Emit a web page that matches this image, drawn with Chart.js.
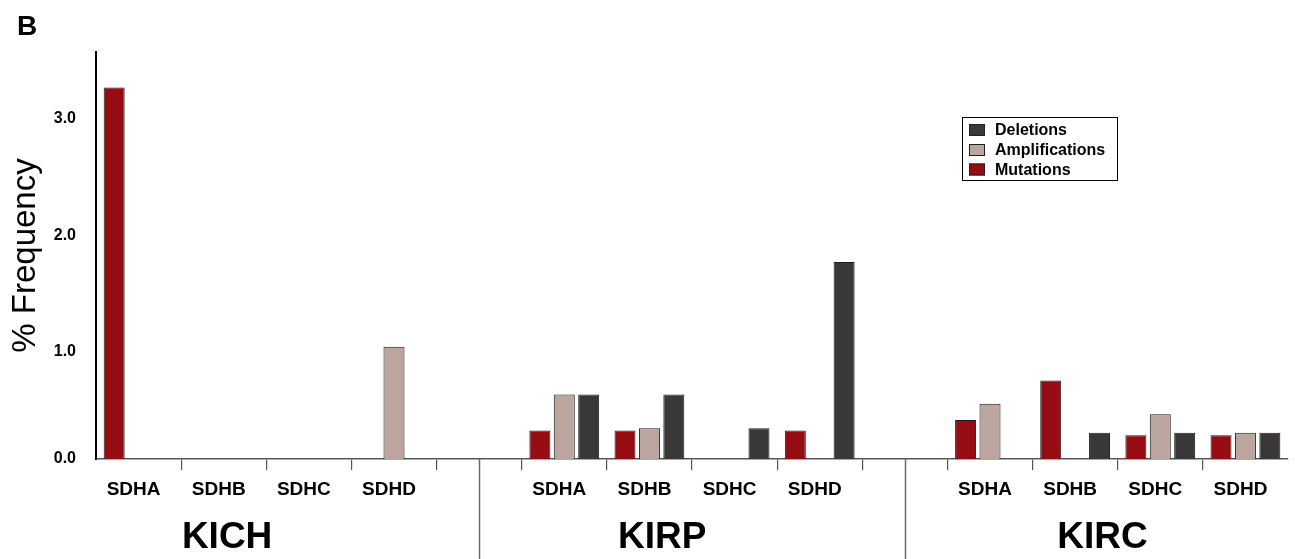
<!DOCTYPE html>
<html>
<head>
<meta charset="utf-8">
<script src="https://cdn.jsdelivr.net/npm/chart.js@4.4.1/dist/chart.umd.min.js"></script>
<style>
  html, body { margin: 0; padding: 0; background: #fff; }
  #wrap { width: 1295px; height: 559px; position: relative; }
</style>
</head>
<body>
<div id="wrap"><canvas id="c"></canvas></div>
<script>
// Gene slots per cancer type; the blank slots separate the three cohorts
const categories = ['SDHA', 'SDHB', 'SDHC', 'SDHD', '',
                    'SDHA', 'SDHB', 'SDHC', 'SDHD', '',
                    'SDHA', 'SDHB', 'SDHC', 'SDHD'];
const groups = ['KICH', 'KIRP', 'KIRC'];

// % frequency of alterations per gene
const mutations      = [3.27, 0, 0, 0,    null, 0.32, 0.32, 0,    0.32, null, 0.41, 0.75, 0.28, 0.28];
const amplifications = [0,    0, 0, 1.04, null, 0.63, 0.34, 0,    0,    null, 0.55, 0,    0.46, 0.30];
const deletions      = [0,    0, 0, 0,    null, 0.63, 0.63, 0.34, 1.77, null, 0,    0.30, 0.30, 0.30];

const seriesNames = ['Mutations', 'Amplifications', 'Deletions'];
const seriesColors = ['#960c13', '#bda59f', '#393836'];

const yTickValues = [1, 2, 3];
const yTickLabels = ['0.0', '1.0', '2.0', '3.0'];

const FONT = 'Arial, "Liberation Sans", Helvetica, sans-serif';

// Extra drawing: cohort separators, cohort names, panel letter, legend box
const decorPlugin = {
  id: 'decor',
  afterDraw(chart, args, opts) {
    const ctx = chart.ctx;
    const xs = chart.scales.x;
    const area = chart.chartArea;
    ctx.save();

    // vertical separators between cohorts, drawn through the blank slots
    ctx.strokeStyle = '#6a6a6a';
    ctx.lineWidth = 1.5;
    opts.separatorSlots.forEach(s => {
      const px = Math.round(xs.getPixelForValue(s)) + 0.5;
      ctx.beginPath();
      ctx.moveTo(px, area.bottom);
      ctx.lineTo(px, chart.height);
      ctx.stroke();
    });

    // cohort names
    ctx.fillStyle = '#000';
    ctx.font = `bold 37px ${FONT}`;
    ctx.textAlign = 'center';
    ctx.textBaseline = 'alphabetic';
    groups.forEach((g, i) => {
      ctx.fillText(g, xs.getPixelForValue(opts.groupSlots[i]), opts.groupBaseline);
    });

    // panel letter
    ctx.font = `bold 28px ${FONT}`;
    ctx.textAlign = 'left';
    ctx.fillText('B', 17, 35);

    // legend
    const L = opts.legend;
    ctx.strokeStyle = '#000';
    ctx.lineWidth = 1;
    ctx.strokeRect(L.x + 0.5, L.y + 0.5, L.w, L.h);
    ctx.font = `bold 16px ${FONT}`;
    ctx.textBaseline = 'middle';
    const ds = chart.data.datasets.slice().reverse();
    ds.forEach((d, i) => {
      const cy = L.rowY[i];
      ctx.fillStyle = d.backgroundColor;
      ctx.fillRect(L.x + 7, cy - 6, 16, 12);
      ctx.strokeStyle = '#222';
      ctx.strokeRect(L.x + 7.5, cy - 5.5, 15, 11);
      ctx.fillStyle = '#000';
      ctx.fillText(d.label, L.x + 33, cy + 1);
    });
    ctx.restore();
  }
};

const datasets = [mutations, amplifications, deletions].map((vals, i) => ({
  label: seriesNames[i],
  data: vals,
  backgroundColor: seriesColors[i],
  borderColor: '#1c1c1c',
  borderWidth: 1,
  categoryPercentage: 0.86,
  barPercentage: 0.86,
  clip: 0
}));

new Chart(document.getElementById('c'), {
  type: 'bar',
  data: { labels: categories, datasets },
  plugins: [decorPlugin],
  options: {
    responsive: true,
    maintainAspectRatio: false,
    animation: false,
    layout: { padding: { top: 52, right: 7, left: 0, bottom: 0 } },
    plugins: {
      legend: { display: false },
      tooltip: { enabled: false },
      decor: {
        separatorSlots: [4, 9],
        groupSlots: [1.04, 6.15, 11.32],
        groupBaseline: 548,
        legend: { x: 962, y: 117, w: 155, h: 63, rowY: [130, 150, 169.5] }
      }
    },
    scales: {
      x: {
        offset: true,
        grid: {
          offset: true,
          drawOnChartArea: false,
          drawTicks: true,
          tickLength: 11,
          lineWidth: 1.2,
          color: ctx => (ctx.type === 'tick' && ctx.index > 0) ? '#555' : 'rgba(0,0,0,0)'
        },
        border: { display: true, color: '#5e5450', width: 1.5 },
        ticks: {
          color: '#000',
          font: { family: FONT, size: 19, weight: 'bold' },
          padding: 8,
          labelOffset: -5,
          maxRotation: 0,
          autoSkip: false
        },
        afterFit(scale) { scale.height = 100; }
      },
      y: {
        min: 0.075,
        max: 3.576,
        grid: { display: false, drawTicks: false },
        border: { display: true, color: '#000', width: 2 },
        afterBuildTicks(scale) {
          scale.ticks = [{ value: scale.min }].concat(yTickValues.map(v => ({ value: v })));
        },
        ticks: {
          color: '#000',
          font: { family: FONT, size: 16, weight: 'bold' },
          padding: 20,
          callback: (value, index) => yTickLabels[index]
        },
        title: {
          display: true,
          text: '% Frequency',
          color: '#000',
          font: { family: FONT, size: 33, weight: 'normal' },
          padding: { top: 6, bottom: 0 }
        },
        afterFit(scale) { scale.width = 96; }
      }
    }
  }
});
</script>
</body>
</html>
